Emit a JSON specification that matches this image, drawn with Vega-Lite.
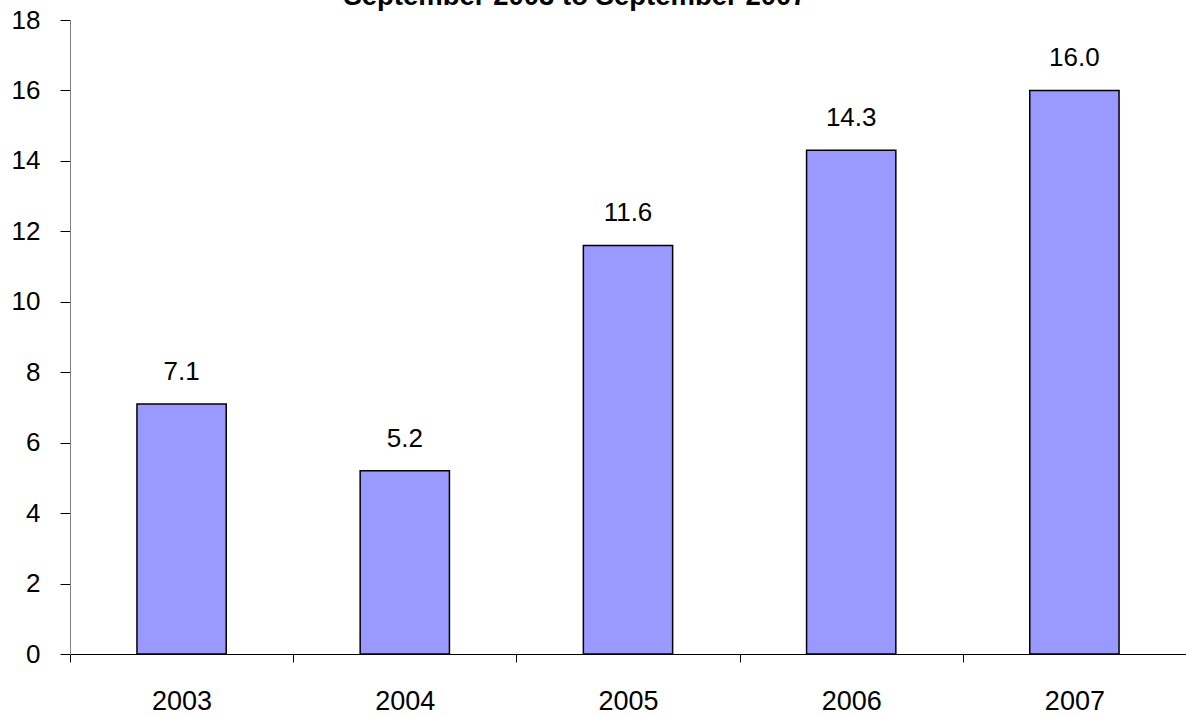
{
  "$schema": "https://vega.github.io/schema/vega-lite/v6.json",
  "autosize": "none",
  "width": 1116,
  "height": 634,
  "padding": {"left": 70, "top": 20, "right": 0, "bottom": 61},
  "background": "white",
  "title": {
    "text": "September 2003 to September 2007",
    "font": "Liberation Sans",
    "fontSize": 27.5,
    "fontWeight": "bold",
    "color": "#000000",
    "anchor": "middle",
    "dx": -53,
    "dy": 25,
    "baseline": "alphabetic",
    "offset": 0
  },
  "data": {
    "values": [
      {"year": "2003", "value": 7.1},
      {"year": "2004", "value": 5.2},
      {"year": "2005", "value": 11.6},
      {"year": "2006", "value": 14.3},
      {"year": "2007", "value": 16.0}
    ]
  },
  "config": {
    "view": {"stroke": null},
    "axis": {
      "labelFont": "Liberation Sans",
      "labelFontSize": 26,
      "labelColor": "#000000",
      "grid": false,
      "title": null
    }
  },
  "encoding": {
    "x": {
      "field": "year",
      "type": "ordinal",
      "scale": {"paddingInner": 0, "paddingOuter": 0},
      "axis": {
        "labelAngle": 0,
        "tickBand": "extent",
        "tickSize": 8,
        "tickColor": "#000000",
        "domainColor": "#000000",
        "labelPadding": 26,
        "labelBaseline": "top",
        "labelFontSize": 27
      }
    },
    "y": {
      "field": "value",
      "type": "quantitative",
      "scale": {"domain": [0, 18], "nice": false},
      "axis": {
        "values": [0, 2, 4, 6, 8, 10, 12, 14, 16, 18],
        "tickSize": 10,
        "tickColor": "#000000",
        "domainColor": "#808080",
        "labelPadding": 20
      }
    }
  },
  "layer": [
    {
      "mark": {"type": "bar", "color": "#9999FF", "stroke": "#000000", "strokeWidth": 1.5, "width": {"band": 0.4}}
    },
    {
      "mark": {
        "type": "text",
        "font": "Liberation Sans",
        "fontSize": 26,
        "color": "#000000",
        "baseline": "alphabetic",
        "dy": -24
      },
      "encoding": {
        "text": {"field": "value", "type": "quantitative", "format": ".1f"}
      }
    }
  ]
}
